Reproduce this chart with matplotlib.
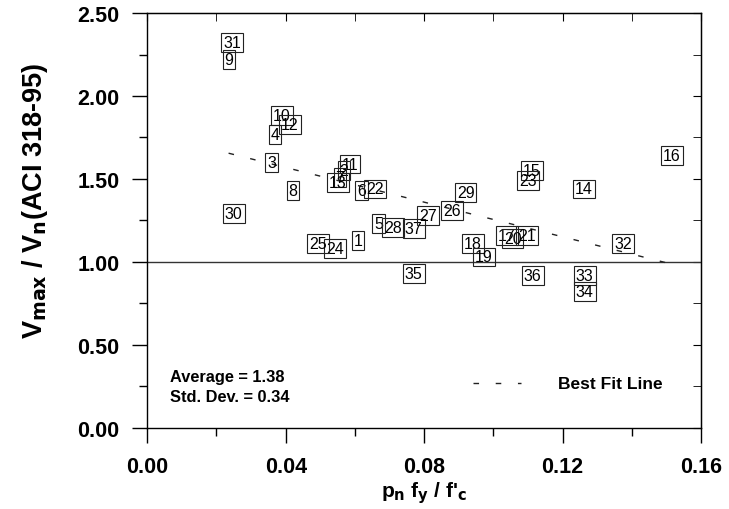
import matplotlib
matplotlib.use("Agg")
import matplotlib.pyplot as plt
from matplotlib.ticker import MultipleLocator, FormatStrFormatter
import numpy as np

plt.rcParams['font.family'] = ['Liberation Sans', 'DejaVu Sans']
plt.rcParams['mathtext.default'] = 'bf'

labels = ['31', '9', '10', '12', '4', '3', '8', '30', '11', '2', '7', '13', '6', '22',
          '5', '28', '37', '27', '26', '29', '1', '24', '25', '18', '19', '35', '17',
          '20', '21', '15', '23', '36', '14', '16', '32', '33', '34']
x_vals = [0.0245, 0.0236, 0.0389, 0.0412, 0.0369, 0.0360, 0.0421, 0.0250, 0.0586, 0.0568,
          0.0557, 0.0551, 0.0620, 0.0658, 0.0669, 0.0710, 0.0770, 0.0811, 0.0880, 0.0920,
          0.0609, 0.0542, 0.0493, 0.0941, 0.0973, 0.0770, 0.1039, 0.1056, 0.1097, 0.1111,
          0.1100, 0.1114, 0.1261, 0.1516, 0.1374, 0.1264, 0.1264]
y_vals = [2.32, 2.22, 1.88, 1.83, 1.77, 1.60, 1.43, 1.29, 1.59, 1.55,
          1.51, 1.48, 1.43, 1.44, 1.23, 1.21, 1.20, 1.28, 1.31, 1.42,
          1.13, 1.08, 1.11, 1.11, 1.03, 0.93, 1.16, 1.14, 1.16, 1.55,
          1.49, 0.92, 1.44, 1.64, 1.11, 0.92, 0.82]

fit_x = [0.0235, 0.1515]
fit_intercept = 1.778
fit_slope = -5.22

fig = plt.figure(figsize=(7.29, 5.10), dpi=100)
ax = fig.add_axes([0.202, 0.159, 0.7596, 0.8135])

ax.set_xlim(0, 0.16)
ax.set_ylim(0, 2.5)

ax.axhline(1.0, color='#333333', lw=1.0, zorder=1)
fx = np.array(fit_x)
ax.plot(fx, fit_intercept + fit_slope * fx, color='#222222', lw=1.0,
        linestyle=(0, (4, 12)), zorder=1)

for lab, xv, yv in zip(labels, x_vals, y_vals):
    ax.text(xv, yv, lab, ha='center', va='center', fontsize=11.5, color='black',
            family=['Liberation Sans Narrow', 'Liberation Sans', 'DejaVu Sans'],
            bbox=dict(boxstyle='square,pad=0.12', fc='none', ec='#222222', lw=0.8),
            zorder=3)

ax.xaxis.set_major_locator(MultipleLocator(0.04))
ax.xaxis.set_minor_locator(MultipleLocator(0.02))
ax.yaxis.set_major_locator(MultipleLocator(0.5))
ax.yaxis.set_minor_locator(MultipleLocator(0.25))
ax.xaxis.set_major_formatter(FormatStrFormatter('%.2f'))
ax.yaxis.set_major_formatter(FormatStrFormatter('%.2f'))
ax.tick_params(which='major', direction='out', length=11, width=1.0, labelsize=15.5, pad=9)
ax.tick_params(which='minor', direction='out', length=6, width=1.0)
for lbl in ax.get_xticklabels() + ax.get_yticklabels():
    lbl.set_fontweight('bold')

sec = ax.secondary_yaxis('right')
sec.yaxis.set_major_locator(MultipleLocator(0.5))
sec.yaxis.set_minor_locator(MultipleLocator(0.25))
sec.tick_params(which='both', direction='in', length=6, labelright=False)
sec2 = ax.secondary_xaxis('top')
sec2.xaxis.set_major_locator(MultipleLocator(0.04))
sec2.xaxis.set_minor_locator(MultipleLocator(0.02))
sec2.tick_params(which='both', direction='in', length=6, labeltop=False)

for sp in ax.spines.values():
    sp.set_linewidth(1.0)

ax.set_xlabel("p$_\\mathbf{n}$ f$_\\mathbf{y}$ / f'$_\\mathbf{c}$", fontsize=15,
              fontweight='bold')
ax.xaxis.set_label_coords(0.5, -0.123)
ax.set_ylabel("V$_\\mathbf{max}$ / V$_\\mathbf{n}$(ACI 318-95)", fontsize=19.5,
              fontweight='bold')
ax.yaxis.set_label_coords(-0.175, 0.55)

ax.text(0.0066, 0.31, "Average = 1.38", fontsize=11.8, fontweight='bold',
        ha='left', va='center')
ax.text(0.0066, 0.19, "Std. Dev. = 0.34", fontsize=11.8, fontweight='bold',
        ha='left', va='center')

leg_x = [0.0941, 0.108]
ax.plot(leg_x, [0.27, 0.27], color='#222222', lw=1.0, linestyle=(0, (4, 12)))
ax.text(0.1187, 0.27, "Best Fit Line", fontsize=12.5, fontweight='bold',
        ha='left', va='center')

fig.savefig('out.png', dpi=100)
